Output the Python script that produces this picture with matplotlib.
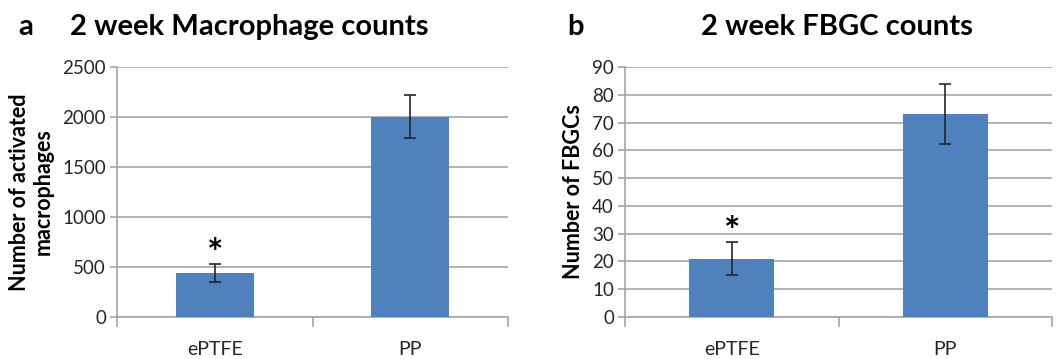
import matplotlib
matplotlib.use("Agg")
import matplotlib.pyplot as plt
import numpy as np

plt.rcParams['font.family'] = ['Lato', 'DejaVu Sans']

categories = ["ePTFE", "PP"]
macro_values = [440, 2000]
macro_errors = [90, 215]
fbgc_values = [21, 73]
fbgc_errors = [6, 10.7]
macro_ticks = [0, 500, 1000, 1500, 2000, 2500]
fbgc_ticks = [0, 10, 20, 30, 40, 50, 60, 70, 80, 90]

BAR = "#4F81BD"
GRID = "#A6A6A6"

fig = plt.figure(figsize=(10.61, 3.59), dpi=100)

def panel(rect, values, errors, ticks, ylabel, title, letter, letter_x, title_x, star_off, lpad):
    ax = fig.add_axes(rect)
    x = np.arange(len(categories))
    ax.bar(x, values, width=0.4, color=BAR, zorder=3)
    ax.errorbar(x, values, yerr=errors, fmt='none', ecolor='#262626',
                elinewidth=1.2, capsize=4, capthick=1.2, zorder=4)
    ax.set_xlim(-0.5, len(categories) - 0.5)
    ax.set_ylim(ticks[0], ticks[-1])
    ax.set_yticks(ticks)
    ax.set_yticklabels([str(t) for t in ticks], fontsize=13.5, color='#262626')
    ax.set_xticks(x)
    ax.set_xticklabels(categories, fontsize=14, color='#262626')
    ax.tick_params(axis='x', length=0, pad=17)
    ax.set_xticks([-0.5, 0.5, 1.5], minor=True)
    ax.tick_params(axis='x', which='minor', length=7, color=GRID, width=1.2)
    ax.tick_params(axis='y', length=5, color=GRID, width=1.2, pad=3)
    ax.grid(axis='y', color=GRID, linewidth=1.2, zorder=0)
    for s in ['top', 'right']:
        ax.spines[s].set_visible(False)
    for s in ['left', 'bottom']:
        ax.spines[s].set_color(GRID)
        ax.spines[s].set_linewidth(1.2)
    ax.set_ylabel(ylabel, fontsize=15.5, fontweight='bold', labelpad=lpad, linespacing=1.15)
    ax.annotate('*', xy=(x[0], values[0] + errors[0]), xytext=(0, star_off),
                textcoords='offset points', ha='center', va='bottom',
                fontsize=28, fontweight='bold')
    fig.text(letter_x, 0.925, letter, fontsize=21, fontweight='bold', va='center')
    fig.text(title_x, 0.925, title, fontsize=21, fontweight='bold', va='center')
    return ax

panel([0.1103, 0.117, 0.3685, 0.6964], macro_values, macro_errors, macro_ticks,
      "Number of activated\nmacrophages", "2 week Macrophage counts", "a",
      0.017, 0.066, -6, 6)
panel([0.5891, 0.117, 0.4024, 0.6964], fbgc_values, fbgc_errors, fbgc_ticks,
      "Number of FBGCs", "2 week FBGC counts", "b",
      0.535, 0.661, -6, 6)

fig.savefig("out.png", dpi=100)
